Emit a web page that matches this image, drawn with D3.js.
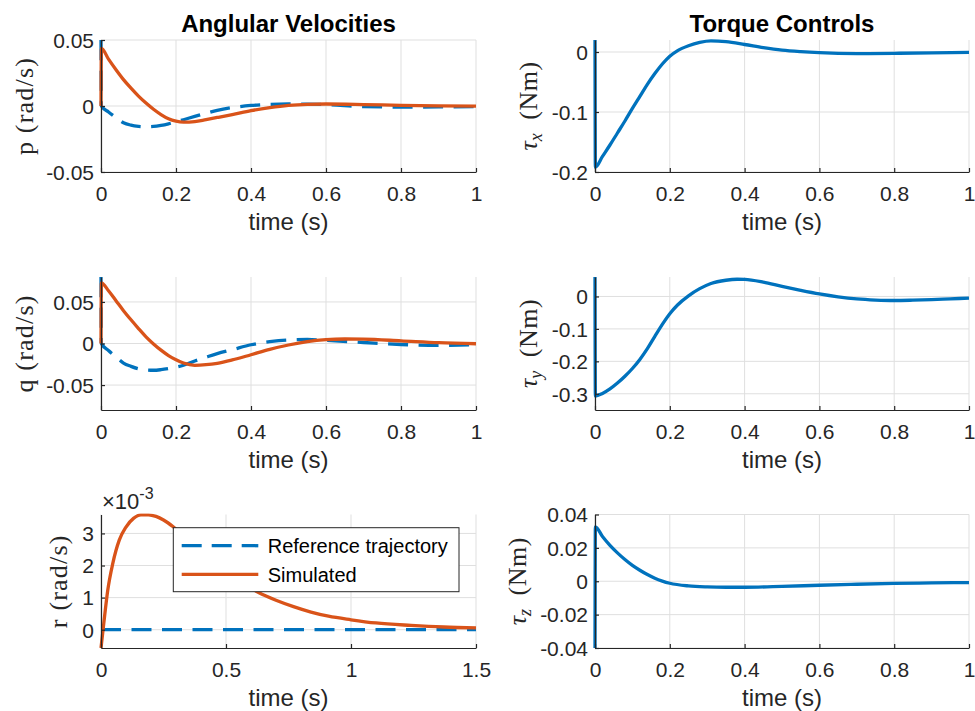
<!DOCTYPE html>
<html>
<head>
<meta charset="utf-8">
<script src="https://cdn.jsdelivr.net/npm/d3@7"></script>
<style>
body { margin: 0; background: #fff; }
svg text { font-family: "Liberation Sans", Arial, sans-serif; }
</style>
</head>
<body>
<div id="chart"></div>
<script>
// values (time in s)

// p (rad/s)
var pRefTime = [0, 0.001, 0.02, 0.04, 0.06, 0.08, 0.1, 0.12, 0.14, 0.16, 0.18, 0.2, 0.22, 0.25, 0.28, 0.31, 0.35, 0.4, 0.45, 0.5, 0.55, 0.6, 0.7, 0.8, 0.9, 1.0];
var pRef = [0.05, 0, -0.0045, -0.0088, -0.0127, -0.0145, -0.0154, -0.0157, -0.0155, -0.0147, -0.0135, -0.012, -0.0104, -0.0079, -0.0055, -0.0033, -0.0012, 0.0004, 0.0012, 0.0015, 0.0014, 0.0011, -0.0004, -0.0008, -0.0007, -0.0004];
var pSimTime = [0, 0.001, 0.02, 0.04, 0.06, 0.08, 0.1, 0.12, 0.14, 0.16, 0.18, 0.2, 0.22, 0.25, 0.28, 0.31, 0.35, 0.4, 0.45, 0.5, 0.55, 0.6, 0.7, 0.8, 0.9, 1.0];
var pSim = [0, 0.0437, 0.0355, 0.0275, 0.02, 0.0135, 0.0075, 0.0022, -0.0025, -0.0065, -0.0097, -0.0115, -0.0122, -0.0118, -0.0103, -0.0087, -0.0065, -0.0035, -0.0012, 0.0005, 0.0013, 0.0015, 0.0011, 0.0005, 0.0001, -0.0001];

// q (rad/s)
var qRefTime = [0, 0.001, 0.02, 0.04, 0.06, 0.08, 0.1, 0.12, 0.14, 0.16, 0.18, 0.2, 0.22, 0.25, 0.28, 0.31, 0.35, 0.4, 0.45, 0.5, 0.55, 0.6, 0.7, 0.8, 0.9, 1.0];
var qRef = [0.08, 0, -0.0085, -0.016, -0.0235, -0.0275, -0.0305, -0.0318, -0.0322, -0.0315, -0.0302, -0.0285, -0.0262, -0.021, -0.0165, -0.0122, -0.0075, -0.0015, 0.0022, 0.0043, 0.0048, 0.0038, 0.0012, -0.0012, -0.0022, -0.0016];
var qSimTime = [0, 0.001, 0.02, 0.04, 0.06, 0.08, 0.1, 0.12, 0.14, 0.16, 0.18, 0.2, 0.22, 0.25, 0.28, 0.31, 0.35, 0.4, 0.45, 0.5, 0.55, 0.6, 0.65, 0.7, 0.8, 0.9, 1.0];
var qSim = [0, 0.0728, 0.0635, 0.0515, 0.0395, 0.0285, 0.018, 0.008, -0.0005, -0.008, -0.0145, -0.0195, -0.0235, -0.0262, -0.0255, -0.0238, -0.0198, -0.0135, -0.007, -0.0018, 0.0022, 0.0046, 0.0054, 0.0052, 0.0032, 0.001, -0.0003];

// r (rad/s)
var rRefTime = [0, 0.5, 1.0, 1.5];
var rRef = [0, 0, 0, 0];
var rSimTime = [0, 0.011, 0.027, 0.047, 0.073, 0.1, 0.13, 0.16, 0.19, 0.22, 0.25, 0.29, 0.35, 0.4, 0.45, 0.5, 0.55, 0.63, 0.7, 0.77, 0.84, 0.91, 1.0, 1.1, 1.24, 1.37, 1.5];
var rSim = [-0.00057, 0.00019, 0.00123, 0.00206, 0.00279, 0.0032, 0.00347, 0.00358, 0.00358, 0.00353, 0.00342, 0.0032, 0.00278, 0.00242, 0.00208, 0.00178, 0.00152, 0.00116, 0.00092, 0.00072, 0.00055, 0.00042, 0.00031, 0.00021, 0.000135, 0.000085, 0.00006];

// torques (Nm)
var tauXTime = [0, 0.001, 0.02, 0.04, 0.06, 0.08, 0.1, 0.12, 0.14, 0.16, 0.18, 0.2, 0.22, 0.25, 0.28, 0.31, 0.35, 0.4, 0.45, 0.5, 0.55, 0.6, 0.7, 0.8, 0.9, 1.0];
var tauX = [0.02, -0.192, -0.174, -0.155, -0.135, -0.115, -0.094, -0.074, -0.054, -0.036, -0.02, -0.007, 0.002, 0.0105, 0.016, 0.0185, 0.0172, 0.0125, 0.0072, 0.003, 0.0005, -0.0012, -0.0026, -0.0022, -0.0014, -0.0006];
var tauYTime = [0, 0.001, 0.02, 0.04, 0.06, 0.08, 0.1, 0.12, 0.14, 0.16, 0.18, 0.2, 0.22, 0.25, 0.28, 0.31, 0.35, 0.38, 0.4, 0.45, 0.5, 0.55, 0.6, 0.65, 0.7, 0.75, 0.8, 0.85, 0.9, 0.95, 1.0];
var tauY = [0.06, -0.307, -0.299, -0.285, -0.267, -0.246, -0.222, -0.194, -0.161, -0.123, -0.086, -0.053, -0.027, 0.002, 0.024, 0.04, 0.05, 0.053, 0.0525, 0.044, 0.031, 0.019, 0.008, -0.001, -0.0075, -0.011, -0.0125, -0.0115, -0.0098, -0.0074, -0.005];
var tauZTime = [0, 0.001, 0.02, 0.04, 0.06, 0.08, 0.1, 0.12, 0.14, 0.16, 0.18, 0.2, 0.25, 0.3, 0.35, 0.4, 0.5, 0.6, 0.7, 0.8, 0.9, 1.0];
var tauZ = [-0.04, 0.0326, 0.0268, 0.0215, 0.017, 0.013, 0.0095, 0.0066, 0.004, 0.0018, 0.0001, -0.0012, -0.0028, -0.0034, -0.0036, -0.0036, -0.0031, -0.0024, -0.0018, -0.0013, -0.001, -0.0008];

// ticks
var timeTicks = [0, 0.2, 0.4, 0.6, 0.8, 1];
var timeTickLabels = ["0", "0.2", "0.4", "0.6", "0.8", "1"];
var rTimeTicks = [0, 0.5, 1, 1.5];
var rTimeTickLabels = ["0", "0.5", "1", "1.5"];
var pqTicks = [-0.05, 0, 0.05];
var pqTickLabels = ["-0.05", "0", "0.05"];
var rTicks = [0, 0.001, 0.002, 0.003];
var rTickLabels = ["0", "1", "2", "3"];
var tauXTicks = [-0.2, -0.1, 0];
var tauXTickLabels = ["-0.2", "-0.1", "0"];
var tauYTicks = [-0.3, -0.2, -0.1, 0];
var tauYTickLabels = ["-0.3", "-0.2", "-0.1", "0"];
var tauZTicks = [-0.04, -0.02, 0, 0.02, 0.04];
var tauZTickLabels = ["-0.04", "-0.02", "0", "0.02", "0.04"];

var legendNames = ["Reference trajectory", "Simulated"];

var blue = "#0072BD", orange = "#D95319", ink = "#262626";

var svg = d3.select("#chart").append("svg")
    .attr("width", 975)
    .attr("height", 711);

var panels = [
  {x0: 101, x1: 476, y0: 40, y1: 172, xd: [0, 1], yd: [-0.05, 0.05],
   xt: timeTicks, xl: timeTickLabels, yt: pqTicks, yl: pqTickLabels,
   title: "Anglular Velocities", lab: "p", labX: 32.5,
   series: [{t: pRefTime, v: pRef, c: blue, dash: true}, {t: pSimTime, v: pSim, c: orange}]},
  {x0: 595, x1: 969, y0: 40, y1: 172, xd: [0, 1], yd: [-0.2, 0.02],
   xt: timeTicks, xl: timeTickLabels, yt: tauXTicks, yl: tauXTickLabels,
   title: "Torque Controls", tau: "x", labX: 537,
   series: [{t: tauXTime, v: tauX, c: blue}]},
  {x0: 101, x1: 476, y0: 277, y1: 410, xd: [0, 1], yd: [-0.08, 0.08],
   xt: timeTicks, xl: timeTickLabels, yt: pqTicks, yl: pqTickLabels,
   lab: "q", labX: 33,
   series: [{t: qRefTime, v: qRef, c: blue, dash: true}, {t: qSimTime, v: qSim, c: orange}]},
  {x0: 595, x1: 969, y0: 277, y1: 410, xd: [0, 1], yd: [-0.35, 0.06],
   xt: timeTicks, xl: timeTickLabels, yt: tauYTicks, yl: tauYTickLabels,
   tau: "y", labX: 537,
   series: [{t: tauYTime, v: tauY, c: blue}]},
  {x0: 101, x1: 476, y0: 514.5, y1: 648, xd: [0, 1.5], yd: [-0.00057, 0.00359],
   xt: rTimeTicks, xl: rTimeTickLabels, yt: rTicks, yl: rTickLabels,
   lab: "r", labX: 67, expo: true, legend: true,
   series: [{t: rRefTime, v: rRef, c: blue, dash: true}, {t: rSimTime, v: rSim, c: orange}]},
  {x0: 595, x1: 969, y0: 514.5, y1: 648, xd: [0, 1], yd: [-0.04, 0.04],
   xt: timeTicks, xl: timeTickLabels, yt: tauZTicks, yl: tauZTickLabels,
   tau: "z", labX: 525.5,
   series: [{t: tauZTime, v: tauZ, c: blue}]}
];

panels.forEach(function (P, i) {
    var x = d3.scaleLinear().domain(P.xd).range([P.x0, P.x1]);
    var y = d3.scaleLinear().domain(P.yd).range([P.y1, P.y0]);
    var g = svg.append("g");

    // grid
    g.selectAll(".vg").data(P.xt).enter().append("line")
        .attr("x1", d => x(d)).attr("x2", d => x(d))
        .attr("y1", P.y0).attr("y2", P.y1)
        .style("stroke", "#dfdfdf").style("stroke-width", 1);
    g.selectAll(".hg").data(P.yt).enter().append("line")
        .attr("x1", P.x0).attr("x2", P.x1)
        .attr("y1", d => y(d)).attr("y2", d => y(d))
        .style("stroke", "#dfdfdf").style("stroke-width", 1);

    // lines
    g.append("clipPath").attr("id", "clip" + i)
        .append("rect")
        .attr("x", P.x0 - 3).attr("y", P.y0 - 1)
        .attr("width", P.x1 - P.x0 + 6).attr("height", P.y1 - P.y0 + 2);

    var line = d3.line()
        .x(d => x(d[0]))
        .y(d => y(d[1]))
        .curve(d3.curveMonotoneX);

    P.series.forEach(function (s) {
        g.append("path")
            .datum(s.t.map((t, k) => [t, s.v[k]]))
            .attr("clip-path", "url(#clip" + i + ")")
            .attr("d", line)
            .style("fill", "none")
            .style("stroke", s.c)
            .style("stroke-width", 3.3)
            .style("stroke-dasharray", s.dash ? "20,10.5" : null);
    });

    // axes
    var xa = g.append("g")
        .attr("transform", "translate(0," + P.y1 + ")")
        .call(d3.axisBottom(x).tickValues(P.xt).tickFormat((d, k) => P.xl[k])
            .tickSizeInner(-4).tickSizeOuter(0).tickPadding(14));
    var ya = g.append("g")
        .attr("transform", "translate(" + P.x0 + ",0)")
        .call(d3.axisLeft(y).tickValues(P.yt).tickFormat((d, k) => P.yl[k])
            .tickSizeInner(-4).tickSizeOuter(0).tickPadding(7));
    [xa, ya].forEach(function (a) {
        a.select(".domain").style("stroke", ink).style("stroke-width", 1.2);
        a.selectAll(".tick line").style("stroke", ink).style("stroke-width", 1.2);
        a.selectAll(".tick text")
            .style("font-family", "'Liberation Sans', Arial, sans-serif")
            .style("font-size", "21px").style("fill", ink);
    });
    ya.selectAll(".tick text").attr("dy", "0.35em");

    // x label
    g.append("text")
        .attr("x", (P.x0 + P.x1) / 2)
        .attr("y", P.y1 + 57.5)
        .style("text-anchor", "middle")
        .style("font-size", "24px")
        .style("fill", ink)
        .text("time (s)");

    // title
    if (P.title) {
        g.append("text")
            .attr("x", (P.x0 + P.x1) / 2)
            .attr("y", P.y0 - 8)
            .style("text-anchor", "middle")
            .style("font-size", "24px")
            .style("font-weight", "bold")
            .style("fill", "#000")
            .text(P.title);
    }

    // y label (LaTeX style, serif)
    var yl = g.append("text")
        .attr("transform", "translate(" + P.labX + "," + (P.y0 + P.y1) / 2 + ") rotate(-90)")
        .style("text-anchor", "middle")
        .style("font-family", "'Liberation Serif', 'Times New Roman', serif")
        .style("font-size", "26px")
        .style("fill", ink);
    if (P.tau) {
        yl.append("tspan").style("font-style", "italic").text("\u03C4");
        yl.append("tspan").style("font-style", "italic").style("font-size", "18px")
            .attr("dy", 5).text(P.tau);
        yl.append("tspan").attr("dy", -5).style("letter-spacing", "0.5px").text("\u2002(Nm)");
    } else {
        yl.style("letter-spacing", "1.2px").text(P.lab + " (rad/s)");
    }

    // exponent label
    if (P.expo) {
        var ex = g.append("text")
            .attr("x", P.x0 + 1)
            .attr("y", P.y0 - 6)
            .style("font-size", "22px")
            .style("fill", ink);
        ex.append("tspan").text("\u00D710");
        ex.append("tspan").attr("dy", -10).style("font-size", "16px").text("-3");
    }

    // legend
    if (P.legend) {
        var lg = g.append("g");
        lg.append("rect")
            .attr("x", 173.3).attr("y", 527.7)
            .attr("width", 285.7).attr("height", 64)
            .style("fill", "#fff").style("stroke", ink).style("stroke-width", 1);
        P.series.forEach(function (s, k) {
            var ly = 545.7 + k * 28.6;
            lg.append("line")
                .attr("x1", 181.7).attr("x2", 258.3)
                .attr("y1", ly).attr("y2", ly)
                .style("stroke", s.c).style("stroke-width", 3.3)
                .style("stroke-dasharray", s.dash ? "20,10" : null);
            lg.append("text")
                .attr("x", 267.7).attr("y", ly + 7.5)
                .style("font-size", "20px").style("fill", "#000")
                .text(legendNames[k]);
        });
    }
});
</script>
</body>
</html>
